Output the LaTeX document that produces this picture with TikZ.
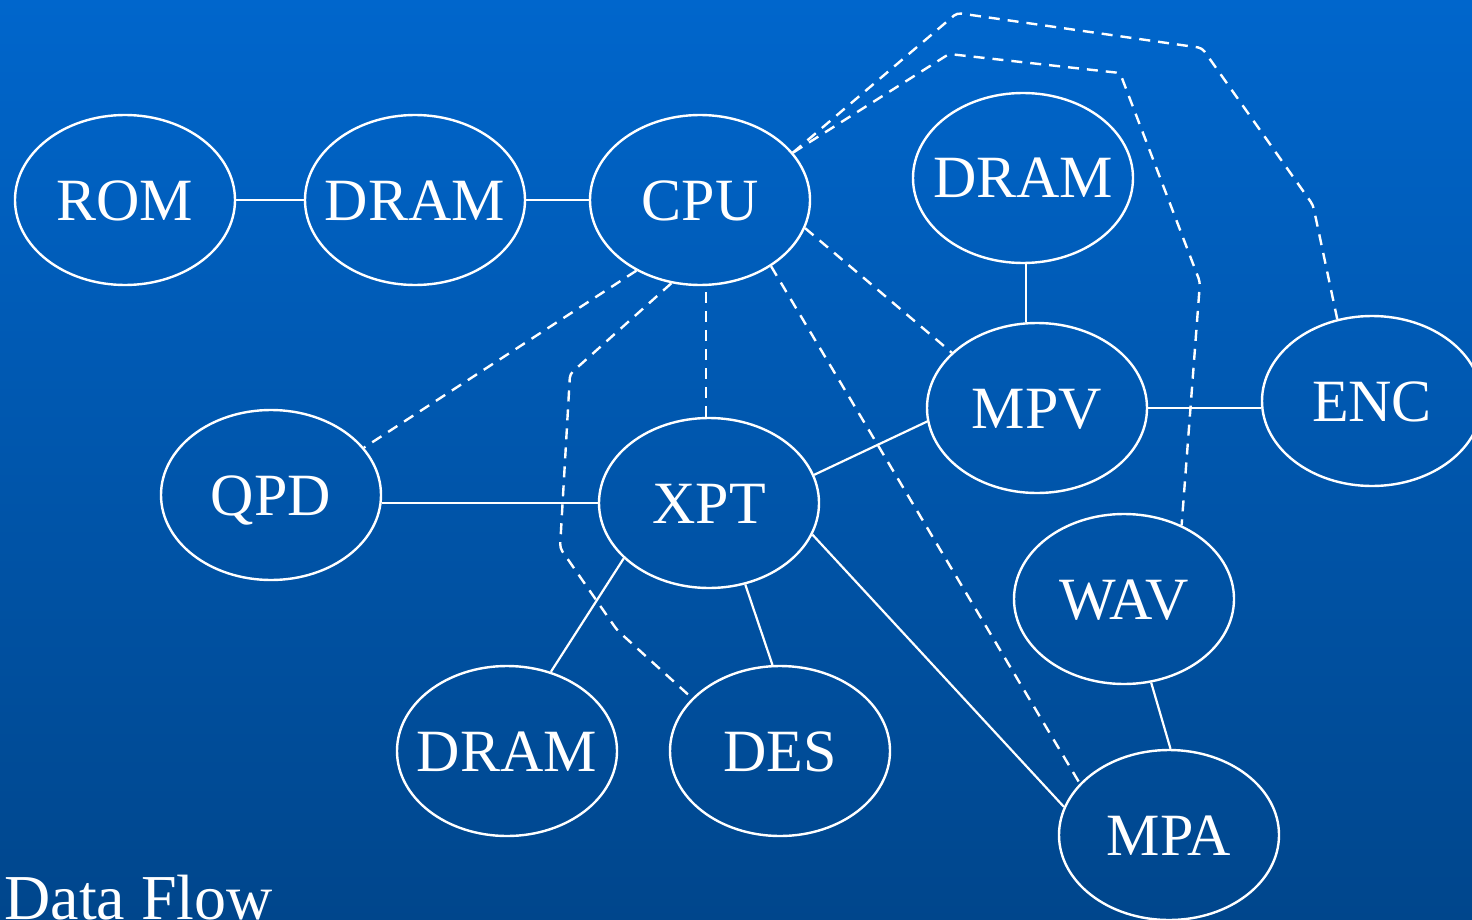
\documentclass[tikz,border=0pt]{standalone}
\usepackage{fontspec}
\setmainfont{Liberation Serif}
\usetikzlibrary{shapes.geometric}
\definecolor{bgtop}{RGB}{0,102,204}
\definecolor{bgbot}{RGB}{0,70,140}
\begin{document}
\begin{tikzpicture}[x=0.5pt,y=-0.5pt,
  blob/.style={ellipse, draw=white, line width=1.2pt, minimum width=110pt,
    minimum height=85pt, inner sep=0pt, text height=20pt, text depth=0pt,
    text=white, font=\fontsize{30}{36}\selectfont},
  conn/.style={draw=white, line width=1.1pt},
  dconn/.style={conn, line width=1.2pt, dash pattern=on 5.5pt off 4pt, rounded corners=2pt}]
\useasboundingbox (0,0) rectangle (1472,920);
\shade[top color=bgtop, bottom color=bgbot] (0,0) rectangle (1472,920);

\node[blob] (rom)   at (125,200)  {\makebox[0pt]{ROM}};
\node[blob] (dram1) at (415,200)  {\makebox[0pt]{DRAM}};
\node[blob] (cpu)   at (700,200)  {\makebox[0pt]{CPU}};
\node[blob] (dram2) at (1023,178) {\makebox[0pt]{DRAM}};
\node[blob] (mpv)   at (1037,408) {\makebox[0pt]{MPV}};
\node[blob] (enc)   at (1372,401) {\makebox[0pt]{ENC}};
\node[blob] (qpd)   at (271,495)  {\makebox[0pt]{QPD}};
\node[blob] (xpt)   at (709,503)  {\makebox[0pt]{XPT}};
\node[blob] (wav)   at (1124,599) {\makebox[0pt]{WAV}};
\node[blob] (dram3) at (507,751)  {\makebox[0pt]{DRAM}};
\node[blob] (des)   at (780,751)  {\makebox[0pt]{DES}};
\node[blob] (mpa)   at (1169,835) {\makebox[0pt]{MPA}};

\node[anchor=base west, inner sep=0pt, text=white, font=\fontsize{32}{38}\selectfont] (title) at (4,919) {Data Flow};

% solid connectors
\draw[conn] (rom.east) -- (dram1.west);
\draw[conn] (dram1.east) -- (cpu.west);
\draw[conn] ([xshift=1.5pt]dram2.south) -- ([xshift=1.5pt]dram2.south |- mpv.north);
\draw[conn] (mpv.east) -- (mpv.east -| enc.west);
\draw[conn] (xpt.west) -- (xpt.west -| qpd.east);
\draw[conn] (xpt.15.8) -- (mpv.187.4);
\draw[conn] (xpt.213.8) -- (dram3.61.1);
\draw[conn] (xpt.-66.3) -- (des.95.4);
\draw[conn] (xpt.-17.5) -- (mpa.165.2);
\draw[conn] (wav.-72) -- (mpa.89);

% dashed connectors
\draw[dconn] (cpu.228) -- (qpd.27);
\draw[dconn] ([xshift=-1.5pt]xpt.north) -- ([xshift=-1.5pt]xpt.north |- cpu.south);
\draw[dconn] (cpu.-15) -- (mpv.147.6);
\draw[dconn] (cpu.-43.7) -- (mpa.150.5);
\draw[dconn] (cpu.251) -- (570,374) -- (560,548) -- (617,630) -- (des.149);
\draw[dconn] (cpu.27) -- (957,13) -- (1202,48) -- (1313,205) -- (enc.113.4);
\draw[dconn] (cpu.27) -- (949,54) -- (1120,73) -- (1200,282) -- (wav.52);
\end{tikzpicture}
\end{document}
